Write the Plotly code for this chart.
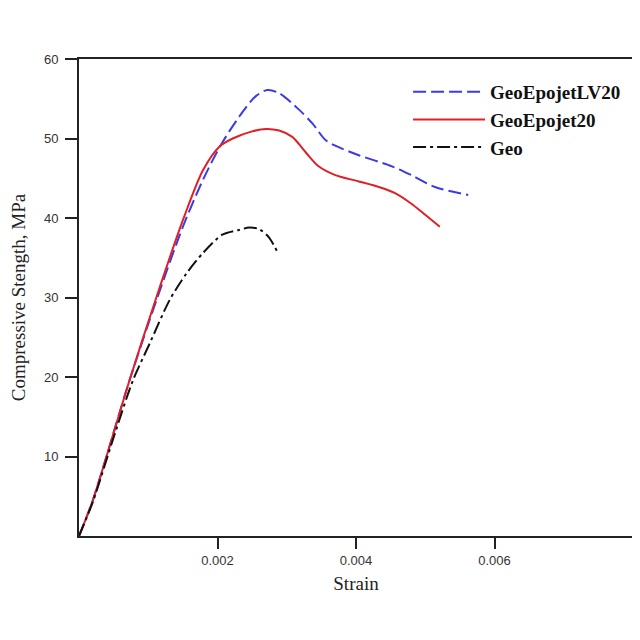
import plotly.graph_objects as go

# Strain values (unitless) and compressive strength (MPa)
lv20_strain = [0.0, 0.0002, 0.00073, 0.00112, 0.00150, 0.00179, 0.00205, 0.00231, 0.00255,
               0.00272, 0.00289, 0.00318, 0.00337, 0.00356, 0.00370, 0.00404, 0.00452,
               0.00480, 0.00514, 0.00562]
lv20_stress = [0.0, 4.5, 19.6, 29.7, 38.9, 44.8, 49.2, 52.7, 55.3,
               56.1, 55.7, 53.6, 51.9, 49.8, 49.1, 47.9, 46.5,
               45.4, 43.9, 42.9]

ep20_strain = [0.0, 0.0002, 0.00073, 0.00112, 0.00152, 0.00179, 0.00203, 0.00222, 0.00250,
               0.00270, 0.00289, 0.00308, 0.00327, 0.00346, 0.00370, 0.00404, 0.00433,
               0.00457, 0.00480, 0.00500, 0.00521]
ep20_stress = [0.0, 4.5, 19.6, 30.1, 40.2, 46.0, 49.0, 50.0, 50.9,
               51.2, 51.0, 50.2, 48.3, 46.5, 45.4, 44.6, 43.9,
               43.1, 41.8, 40.4, 38.9]

geo_strain = [0.0, 0.0002, 0.0005, 0.00078, 0.00102, 0.00131, 0.00155, 0.00179, 0.00207,
              0.00231, 0.00246, 0.00260, 0.00274, 0.00286]
geo_stress = [0.0, 4.3, 12.4, 19.6, 24.2, 29.7, 33.0, 35.6, 37.9,
              38.5, 38.8, 38.6, 37.6, 35.8]

x_tickvals = [0.002, 0.004, 0.006, 0.008]
x_ticktext = ["0.002", "0.004", "0.006", ""]
y_tickvals = [10, 20, 30, 40, 50, 60]

fig = go.Figure()
fig.add_trace(go.Scatter(x=lv20_strain, y=lv20_stress, mode="lines", name="GeoEpojetLV20",
                         line=dict(color="#3b3be6", width=2, dash="13px,5px", shape="spline", smoothing=0.8)))
fig.add_trace(go.Scatter(x=ep20_strain, y=ep20_stress, mode="lines", name="GeoEpojet20",
                         line=dict(color="#e02028", width=2, shape="spline", smoothing=0.8)))
fig.add_trace(go.Scatter(x=geo_strain, y=geo_stress, mode="lines", name="Geo",
                         line=dict(color="#111111", width=2, dash="13px,4px,3px,4px", shape="spline", smoothing=0.8)))

fig.update_layout(
    width=632, height=632,
    margin=dict(l=71, r=7, t=51, b=104),
    paper_bgcolor="white", plot_bgcolor="white",
    showlegend=True,
    legend=dict(x=0.594, y=0.971, xanchor="left", yanchor="top", itemwidth=72,
                font=dict(family="Liberation Serif", size=19, color="#111", weight="bold"),
                bgcolor="rgba(0,0,0,0)", tracegroupgap=0),
    xaxis=dict(range=[0, 0.008], tickvals=x_tickvals, ticktext=x_ticktext, automargin=False,
               showgrid=False, zeroline=False, showline=True, mirror=True,
               linecolor="#222", linewidth=2, ticks="outside", ticklen=11, tickwidth=2,
               tickcolor="#222", tickfont=dict(family="Liberation Sans", size=13, color="#333"),
               title=dict(text="Strain", font=dict(family="Liberation Serif", size=19, color="#222"),
                          standoff=10)),
    yaxis=dict(range=[0, 60], tickvals=y_tickvals, automargin=False,
               showgrid=False, zeroline=False, showline=True, mirror=True,
               linecolor="#222", linewidth=2, ticks="outside", ticklen=12, tickwidth=2,
               tickcolor="#222", ticklabelstandoff=4,
               tickfont=dict(family="Liberation Sans", size=13, color="#333"),
               title=dict(text="Compressive Stength, MPa",
                          font=dict(family="Liberation Serif", size=19, color="#222"),
                          standoff=14)),
)

fig.write_html("out.html")
